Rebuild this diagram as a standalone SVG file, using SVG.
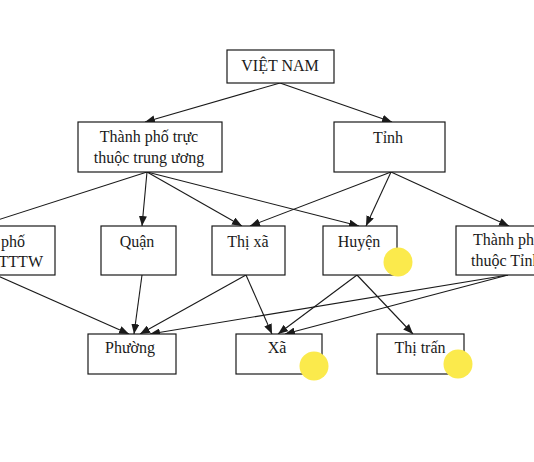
<svg xmlns="http://www.w3.org/2000/svg" width="534" height="462" viewBox="0 0 534 462">
<style>
.box{fill:#fff;stroke:#1a1a1a;stroke-width:1.2}
.t{font-family:"Liberation Serif","Times New Roman",serif;font-size:16px;fill:#1a1a1a;text-anchor:middle}
.e{stroke:#1a1a1a;stroke-width:1.1;fill:none;marker-end:url(#ah)}
.dot{fill:#fbea4c}
</style>
<defs>
<marker id="ah" viewBox="0 0 10 8" refX="10" refY="4" markerWidth="10" markerHeight="8" markerUnits="userSpaceOnUse" orient="auto">
<path d="M0,0 L10,4 L0,8 Z" fill="#1a1a1a"/>
</marker>
</defs>
<rect width="534" height="462" fill="#fff"/>
<g id="connectors">
<line class="e" x1="280" y1="83" x2="145" y2="122"/>
<line class="e" x1="280" y1="83" x2="392" y2="122"/>
<line x1="147" y1="172" x2="-21" y2="226" stroke="#1a1a1a" stroke-width="1.1"/>
<line class="e" x1="147" y1="172" x2="142" y2="226"/>
<line class="e" x1="147" y1="172" x2="242" y2="226"/>
<line class="e" x1="147" y1="172" x2="359" y2="226"/>
<line class="e" x1="391" y1="172" x2="250" y2="226"/>
<line class="e" x1="391" y1="172" x2="366" y2="226"/>
<line class="e" x1="391" y1="172" x2="509" y2="226"/>
<line class="e" x1="-4" y1="275" x2="129" y2="334"/>
<line class="e" x1="142" y1="275" x2="134" y2="334"/>
<line class="e" x1="246" y1="275" x2="140" y2="334"/>
<line class="e" x1="508" y1="275" x2="150" y2="334"/>
<line class="e" x1="246" y1="275" x2="272" y2="334"/>
<line class="e" x1="357" y1="275" x2="278" y2="334"/>
<line class="e" x1="508" y1="275" x2="285" y2="334"/>
<line class="e" x1="357" y1="275" x2="413" y2="334"/>
</g>
<g id="vietnam"><rect class="box" x="227" y="50" width="107" height="33"/><text class="t" x="280" y="71">VIỆT NAM</text></g>
<g id="tp-tttw"><rect class="box" x="78" y="122" width="144" height="50"/><text class="t" x="149" y="142">Thành phố trực</text><text class="t" x="149" y="163">thuộc trung ương</text></g>
<g id="tinh"><rect class="box" x="334" y="122" width="111" height="50"/><text class="t" x="388" y="143">Tỉnh</text></g>
<g id="tp-thuoc-tttw"><rect class="box" x="-70" y="226" width="125" height="49"/><text class="t" x="25" y="247" style="text-anchor:end">Thành phố</text><text class="t" x="43" y="267" style="text-anchor:end">thuộc TTTW</text></g>
<g id="quan"><rect class="box" x="101" y="226" width="75" height="49"/><text class="t" x="137" y="247">Quận</text></g>
<g id="thixa"><rect class="box" x="212" y="226" width="73" height="49"/><text class="t" x="248" y="247">Thị xã</text></g>
<g id="huyen"><rect class="box" x="323" y="226" width="74" height="49"/><text class="t" x="359" y="247">Huyện</text></g>
<g id="tp-thuoc-tinh"><rect class="box" x="456" y="226" width="110" height="49"/><text class="t" x="473" y="245" style="text-anchor:start">Thành phố</text><text class="t" x="471" y="266" style="text-anchor:start">thuộc Tỉnh</text></g>
<g id="phuong"><rect class="box" x="88" y="334" width="88" height="40"/><text class="t" x="130" y="353">Phường</text></g>
<g id="xa"><rect class="box" x="236" y="334" width="86" height="40"/><text class="t" x="277" y="353">Xã</text></g>
<g id="thitran"><rect class="box" x="377" y="334" width="87" height="40"/><text class="t" x="420" y="353">Thị trấn</text></g>
<circle class="dot" cx="398" cy="262" r="14.5"/>
<circle class="dot" cx="314" cy="366" r="14.5"/>
<circle class="dot" cx="458" cy="364" r="14.5"/>
</svg>
